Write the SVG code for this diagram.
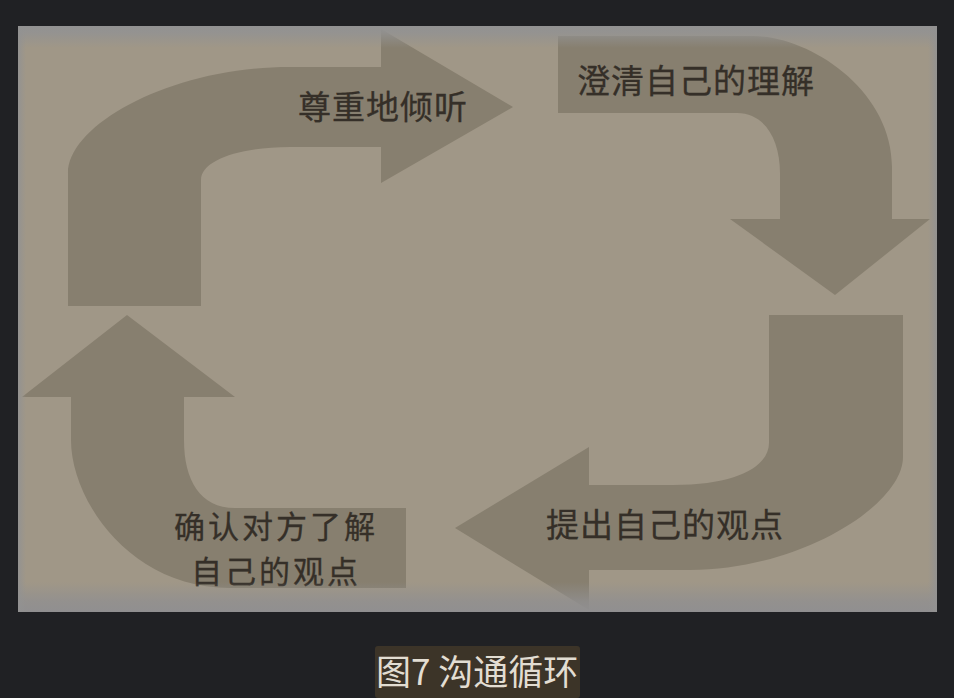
<svg xmlns="http://www.w3.org/2000/svg" width="954" height="698" viewBox="0 0 954 698">
<defs>
<style>
.arrow{fill:#877f6f}
.lbl{font-family:"Noto Sans CJK SC","Noto Sans",sans-serif;font-size:33px;fill:#352f28;letter-spacing:1px;stroke:#352f28;stroke-width:0.3px}
.sm{font-size:31px;letter-spacing:3px}
.cap{font-family:"Noto Sans CJK SC","Noto Sans",sans-serif;font-size:35px;fill:#e2ddd2}
</style>
<linearGradient id="gTop" x1="0" y1="0" x2="0" y2="1"><stop offset="0" stop-color="#929292" stop-opacity="1"/><stop offset="0.3" stop-color="#929292" stop-opacity="0.85"/><stop offset="1" stop-color="#929292" stop-opacity="0"/></linearGradient>
<linearGradient id="gBot" x1="0" y1="1" x2="0" y2="0"><stop offset="0" stop-color="#908f90" stop-opacity="1"/><stop offset="0.35" stop-color="#908f90" stop-opacity="0.8"/><stop offset="1" stop-color="#908f90" stop-opacity="0"/></linearGradient>
<linearGradient id="gLeft" x1="0" y1="0" x2="1" y2="0"><stop offset="0" stop-color="#929292" stop-opacity="0.9"/><stop offset="1" stop-color="#929292" stop-opacity="0"/></linearGradient>
<linearGradient id="gRight" x1="1" y1="0" x2="0" y2="0"><stop offset="0" stop-color="#929292" stop-opacity="0.95"/><stop offset="1" stop-color="#929292" stop-opacity="0"/></linearGradient>
</defs>
<rect width="954" height="698" fill="#202124"/>
<rect id="panel" x="18" y="26" width="919" height="586" fill="#a09787"/>
<g id="connectors">
<g id="arrow-listen">
<path class="arrow" d="M68,306 L68,173 C68,125 170,67 290,67 L381,67 L381,29 L513,107 L381,183 L381,147 L290,147 C240,147 201,160 201,180 L201,306 Z"/>
<text class="lbl" x="298" y="119">尊重地倾听</text>
</g>
<g id="arrow-clarify">
<path class="arrow" d="M558,36 L753,36 C810,36 892,90 892,167 L892,219 L930,219 L835,295 L730,219 L780,219 L780,173 C780,140 765,113 737,113 L558,113 Z"/>
<text class="lbl" x="577" y="93">澄清自己的理解</text>
</g>
<g id="arrow-express">
<path class="arrow" d="M769,315 L903,315 L903,457 C903,505 800,570 690,570 L589,570 L589,610 L455,528 L589,447 L589,485 L673,485 C740,485 769,465 769,443 Z"/>
<text class="lbl" x="546" y="537">提出自己的观点</text>
</g>
<g id="arrow-confirm">
<path class="arrow" d="M71,397 L22,397 L127,315 L235,397 L184,397 L184,440 C184,480 200,508 235,508 L406,508 L406,588 L230,588 C130,588 71,500 71,440 Z"/>
<text class="lbl sm" x="276" y="538" text-anchor="middle">确认对方了解</text>
<text class="lbl sm" x="276" y="583" text-anchor="middle">自己的观点</text>
</g>
</g>
<g id="vignette">
<rect x="18" y="26" width="919" height="22" fill="url(#gTop)"/>
<rect x="18" y="582" width="919" height="30" fill="url(#gBot)"/>
<rect x="18" y="26" width="8" height="586" fill="url(#gLeft)"/>
<rect x="928" y="26" width="9" height="586" fill="url(#gRight)"/>
</g>
<g id="caption">
<rect x="375" y="646" width="205" height="52" rx="3" fill="#3c3428"/>
<text class="cap" x="376" y="685">图7 沟通循环</text>
</g>
</svg>
